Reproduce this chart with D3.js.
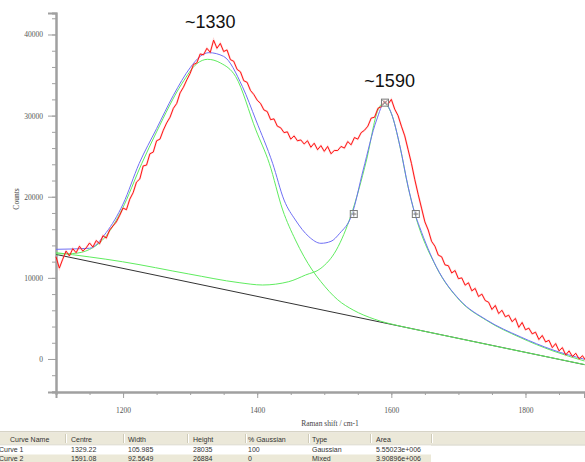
<!DOCTYPE html>
<html lang="en">
<head>
<meta charset="UTF-8">
<title>Raman fit</title>
<script src="https://cdn.jsdelivr.net/npm/d3@7"></script>
<style>
    body { margin: 0; background: #fff; }
    svg { display: block; }
    .lbl { font-family: "Liberation Serif", serif; font-size: 7.5px; fill: #444; }
    .note { font-family: "Liberation Sans", Arial, sans-serif; font-size: 18px; fill: #111; }
    .cell { font-family: "Liberation Sans", Arial, sans-serif; font-size: 7px; fill: #333; }
</style>
</head>
<body>
<div id="chart"></div>
<script>
// measured spectrum, one value every 5 cm-1 starting at 1100
const shiftStart = 1100
const shiftStep = 5
const counts = [
    12600, 11200, 12300, 13300, 12700, 13600, 13100, 13900, 13300, 13700,
    14300, 13800, 14600, 14200, 15200, 14900, 15900, 16400, 16900, 17700,
    18600, 18400, 19700, 20500, 21800, 22200, 23800, 23900, 25300, 25500,
    26900, 27100, 28200, 29100, 29800, 30900, 31500, 32800, 33500, 34400,
    35200, 36300, 36500, 37600, 37500, 38300, 37800, 39300, 38300, 38900,
    37900, 38100, 36900, 36700, 35700, 35400, 34300, 34100, 33100, 32600,
    31900, 31500, 30700, 30500, 29500, 29600, 28700, 28500, 27900, 28000,
    27100, 27500, 26900, 27000, 26500, 26900, 26100, 26600, 25800, 26300,
    25600, 26200, 25300, 25700, 25700, 26200, 26000, 26800, 26400, 27300,
    27100, 27900, 28200, 28700, 29700, 29800, 30900, 31100, 31800, 31400,
    32000, 30800, 30000, 28700, 27500, 25800, 24100, 22100, 20300, 18600,
    16900, 15900, 14500, 13900, 12800, 12600, 11600, 11500, 10600, 10900,
    9900, 10000, 9100, 9400, 8400, 8700, 7700, 8000, 7200, 7000,
    6100, 6600, 5600, 6000, 5200, 5400, 4600, 5000, 3900, 4500,
    3600, 3800, 3100, 3300, 2400, 2900, 2100, 2300, 1400, 1900,
    1000, 1400, 500, 1000, 300, 700, 0, 400, -200
]

// fitted curves: [shift, counts]
const baseline = [[1100, 12890], [1888, -700]]
const curve1Fit = [
    [1100, 12950], [1125, 13000], [1150, 13500], [1175, 15200], [1198, 18370],
    [1228, 24120], [1250, 28000], [1288, 33980], [1310, 36400], [1326, 36940],
    [1345, 36500], [1368, 34800], [1398, 28230], [1418, 24120], [1438, 18370],
    [1457, 14670], [1482, 10970], [1495, 9530], [1520, 7300], [1543, 6040],
    [1575, 4900], [1612, 4070], [1650, 3400], [1888, -680]
]
const curve2Fit = [
    [1100, 13110], [1199, 11990], [1298, 10480], [1373, 9410], [1408, 9120],
    [1447, 9530], [1472, 10350], [1495, 11180], [1518, 13440], [1540, 17750],
    [1563, 24530], [1580, 30690], [1588, 31520], [1600, 30260], [1613, 26130],
    [1625, 21200], [1635, 17930], [1667, 11340], [1702, 7210], [1742, 4750],
    [1792, 2650], [1841, 990], [1888, -250]
]
const sumFit = [
    [1100, 13520], [1150, 13650], [1175, 15600], [1200, 19100], [1224, 24100],
    [1250, 28400], [1275, 32500], [1300, 35900], [1315, 37300], [1328, 37760],
    [1350, 37300], [1378, 33570], [1398, 29460], [1423, 24120], [1440, 19600],
    [1457, 17130], [1477, 15080], [1495, 14260], [1510, 14500], [1523, 15490],
    [1541, 17750], [1558, 23300], [1578, 29460], [1590, 31590], [1600, 30290],
    [1613, 26170], [1625, 21240], [1635, 17960], [1642, 16310], [1667, 11380],
    [1702, 7270], [1742, 4810], [1792, 2750], [1841, 1110], [1888, -40]
]
const peakHandle = [1590.5, 31600]
const halfHandles = [[1544, 17870], [1636.5, 17870]]
const peakNotes = [
    {label: "~1330", shift: 1330},
    {label: "~1590", shift: 1590}
]

const xMajor = [1200, 1400, 1600, 1800]
const yMajor = [0, 10000, 20000, 30000, 40000]

const tableHead = ["Curve Name", "Centre", "Width", "Height", "% Gaussian", "Type", "Area"]
const tableRows = [
    ["Curve 1", "1329.22", "105.985", "28035", "100", "Gaussian", "5.55023e+006"],
    ["Curve 2", "1591.08", "92.5649", "26884", "0", "Mixed", "3.90896e+006"]
]

const W = 585, H = 462
const svg = d3.select("#chart").append("svg").attr("width", W).attr("height", H)

const x = d3.scaleLinear().domain([1100, 1888]).range([56, 584.5])
const y = d3.scaleLinear().domain([-4070, 42650]).range([392, 13])

// axes: minor ticks first, then the labelled ones
const minorX = d3.range(1100, 1888, 50)
const minorY = d3.range(-4000, 42001, 2000)
const axisGrey = "#a0a0a0"

const gx = svg.append("g").attr("transform", "translate(0,392)")
gx.append("g").call(d3.axisBottom(x).tickValues(minorX).tickSize(3).tickFormat(""))
gx.append("g").call(d3.axisBottom(x).tickValues(xMajor).tickSize(6).tickPadding(10)
    .tickFormat(d3.format("d")))
const gy = svg.append("g").attr("transform", "translate(56,0)")
gy.append("g").call(d3.axisLeft(y).tickValues(minorY).tickSize(4).tickFormat(""))
gy.append("g").call(d3.axisLeft(y).tickValues(yMajor).tickSize(8).tickPadding(5)
    .tickFormat(d3.format("d")))
svg.selectAll(".domain").attr("stroke", axisGrey).attr("stroke-width", 2)
svg.selectAll(".tick line").attr("stroke", axisGrey)
svg.selectAll(".tick text")
    .attr("fill", "#555")
    .attr("font-family", "'Liberation Serif', serif")
    .attr("font-size", 7.5)

svg.append("text").attr("class", "lbl")
    .attr("transform", "translate(19,199) rotate(-90)")
    .attr("text-anchor", "middle").text("Counts")
svg.append("text").attr("class", "lbl")
    .attr("x", 330).attr("y", 426)
    .attr("text-anchor", "middle").text("Raman shift / cm-1")

// curves
const plot = svg.append("g")
const smooth = d3.line().x(d => x(d[0])).y(d => y(d[1])).curve(d3.curveMonotoneX)
const drawFit = (data, colour) => plot.append("path")
    .datum(data)
    .attr("fill", "none")
    .attr("stroke", colour)
    .attr("stroke-width", 1)
    .attr("d", smooth)

drawFit(baseline, "#333")
drawFit(curve1Fit, "#5fec5f")
drawFit(curve2Fit, "#5fec5f")
drawFit(sumFit, "#6f6ff5")

const raw = d3.line()
    .x((d, i) => x(shiftStart + i * shiftStep))
    .y(d => y(d))
plot.append("path").datum(counts)
    .attr("fill", "none").attr("stroke", "#ff8a8a")
    .attr("stroke-width", 2).attr("opacity", 0.35).attr("d", raw)
plot.append("path").datum(counts)
    .attr("fill", "none").attr("stroke", "#ff0000")
    .attr("stroke-width", 0.9).attr("d", raw)

// fit handles
const box = (pt, cross) => {
    const cx = x(pt[0]), cy = y(pt[1])
    const g = plot.append("g").attr("stroke", "#7a7a7a").attr("stroke-width", 1)
    g.append("rect").attr("x", cx - 3.5).attr("y", cy - 3.5)
        .attr("width", 7).attr("height", 7).attr("fill", "rgba(255,255,255,0.6)")
    if (cross) {
        g.append("path").attr("d", `M${cx - 2.5},${cy - 2.5}L${cx + 2.5},${cy + 2.5}M${cx + 2.5},${cy - 2.5}L${cx - 2.5},${cy + 2.5}`)
    } else {
        g.append("path").attr("d", `M${cx - 2.5},${cy}H${cx + 2.5}M${cx},${cy - 2.5}V${cy + 2.5}`)
    }
}
box(peakHandle, true)
halfHandles.forEach(p => box(p, false))

// peak labels
const noteDx = [0, 5]
const noteY = [28, 87]
svg.selectAll(".note").data(peakNotes).join("text")
    .attr("class", "note")
    .attr("x", (d, i) => x(d.shift) + noteDx[i])
    .attr("y", (d, i) => noteY[i])
    .attr("text-anchor", "middle")
    .text(d => d.label)

// results table
const colX = [10, 71, 128, 193, 248, 312, 376]
const sepX = [65, 123, 187, 245, 308, 370, 431]
const tbl = svg.append("g")
tbl.append("rect").attr("x", 0).attr("y", 431).attr("width", W).attr("height", 1.5).attr("fill", "#d6d3c6")
tbl.append("rect").attr("x", 0).attr("y", 432.5).attr("width", W).attr("height", 12).attr("fill", "#ebe8d9")
tbl.append("rect").attr("x", 0).attr("y", 444.5).attr("width", W).attr("height", 1).attr("fill", "#d2cfbf")
tbl.selectAll(".sep").data(sepX).join("rect")
    .attr("x", d => d).attr("y", 434).attr("width", 1).attr("height", 9).attr("fill", "#cfcbb9")
tbl.selectAll(".sep2").data(sepX).join("rect")
    .attr("x", d => d + 1).attr("y", 434).attr("width", 1).attr("height", 9).attr("fill", "#fff")
tbl.selectAll(".row").data(tableRows).join("rect")
    .attr("x", 0).attr("y", (d, i) => 445.5 + i * 9)
    .attr("width", 431).attr("height", 9)
    .attr("fill", (d, i) => i % 2 ? "#ece9d8" : "#fff")
tbl.selectAll(".hd").data(tableHead).join("text")
    .attr("class", "cell").attr("x", (d, i) => colX[i]).attr("y", 442).text(d => d)
tableRows.forEach((row, r) => {
    tbl.append("g").selectAll("text").data(row).join("text")
        .attr("class", "cell")
        .attr("x", (d, i) => i === 0 ? -1 : colX[i])
        .attr("y", 452 + r * 9)
        .text(d => d)
})
</script>
</body>
</html>
